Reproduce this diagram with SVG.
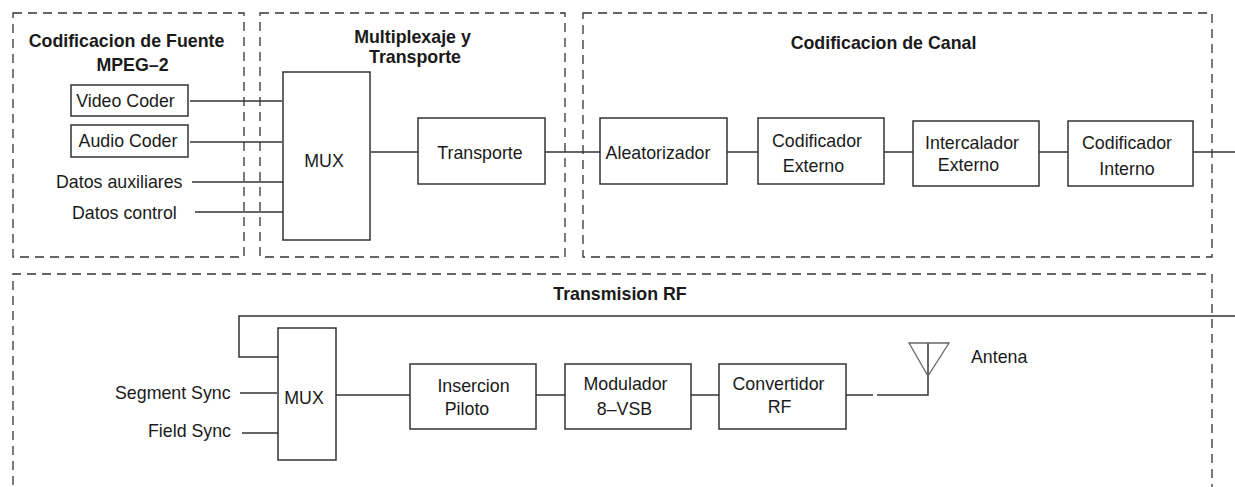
<svg xmlns="http://www.w3.org/2000/svg" width="1235" height="487" viewBox="0 0 1235 487">
<style>
  .grp { fill: none; stroke: #333; stroke-width: 1.3; stroke-dasharray: 9 6; }
  .box { fill: #fff; stroke: #333; stroke-width: 1.5; }
  .ln { fill: none; stroke: #333; stroke-width: 1.5; }
  .ant { fill: none; stroke: #666; stroke-width: 1.3; }
  text { font-family: "Liberation Sans", Arial, sans-serif; font-size: 17.8px; fill: #1a1a1a; }
  .t { font-weight: bold; }
  .m { text-anchor: middle; }
</style>
<rect width="1235" height="487" fill="#fff"/>

<g id="group-fuente">
  <rect class="grp" x="13" y="13" width="231" height="244"/>
  <text class="t m" x="126.5" y="47">Codificacion de Fuente</text>
  <text class="t m" x="132.5" y="71">MPEG–2</text>
</g>
<g id="group-mux">
  <rect class="grp" x="260" y="13" width="305" height="244"/>
  <text class="t m" x="412.5" y="43">Multiplexaje y</text>
  <text class="t m" x="415" y="63">Transporte</text>
</g>
<g id="group-canal">
  <rect class="grp" x="583" y="13" width="629" height="244"/>
  <text class="t m" x="883.5" y="49">Codificacion de Canal</text>
</g>
<g id="group-rf">
  <path class="grp" d="M13,500 V274 H1212 V500"/>
  <text class="t m" x="620" y="300">Transmision RF</text>
</g>

<g id="connectors">
  <line class="ln" x1="190" y1="101" x2="282" y2="101"/>
  <line class="ln" x1="190" y1="142" x2="282" y2="142"/>
  <line class="ln" x1="192" y1="182" x2="283" y2="182"/>
  <line class="ln" x1="195" y1="212" x2="285" y2="212"/>
  <line class="ln" x1="371" y1="152" x2="418" y2="152"/>
  <line class="ln" x1="545" y1="152" x2="600" y2="152"/>
  <line class="ln" x1="727" y1="152" x2="758" y2="152"/>
  <line class="ln" x1="884" y1="152" x2="913" y2="152"/>
  <line class="ln" x1="1039" y1="152" x2="1068" y2="152"/>
  <line class="ln" x1="1193" y1="152" x2="1240" y2="152"/>
  <path class="ln" d="M1240,316 H239 V357 H278"/>
  <line class="ln" x1="240" y1="393" x2="277" y2="393"/>
  <line class="ln" x1="242" y1="433" x2="278" y2="433"/>
  <line class="ln" x1="336" y1="395" x2="410" y2="395"/>
  <line class="ln" x1="536" y1="395" x2="565" y2="395"/>
  <line class="ln" x1="691" y1="395" x2="719" y2="395"/>
  <line class="ln" x1="846" y1="395" x2="873" y2="395"/>
  <path class="ln" d="M877,395 H928 V343"/>
</g>

<g id="video-coder">
  <rect class="box" x="71" y="85" width="117" height="31"/>
  <text class="m" x="125.5" y="107">Video Coder</text>
</g>
<g id="audio-coder">
  <rect class="box" x="71" y="125" width="117" height="32"/>
  <text class="m" x="128" y="147">Audio Coder</text>
</g>
<g id="datos-auxiliares">
  <text x="56" y="188">Datos auxiliares</text>
</g>
<g id="datos-control">
  <text x="72" y="219">Datos control</text>
</g>
<g id="mux1">
  <rect class="box" x="283" y="72" width="87" height="168"/>
  <text class="m" x="324" y="167">MUX</text>
</g>
<g id="transporte">
  <rect class="box" x="418" y="118" width="127" height="66"/>
  <text class="m" x="480" y="159">Transporte</text>
</g>
<g id="aleatorizador">
  <rect class="box" x="600" y="118" width="127" height="66"/>
  <text class="m" x="658" y="159">Aleatorizador</text>
</g>
<g id="codificador-externo">
  <rect class="box" x="758" y="118" width="126" height="66"/>
  <text class="m" x="817" y="147">Codificador</text>
  <text class="m" x="813.5" y="172">Externo</text>
</g>
<g id="intercalador-externo">
  <rect class="box" x="913" y="121" width="126" height="65"/>
  <text class="m" x="972" y="149">Intercalador</text>
  <text class="m" x="968.5" y="171">Externo</text>
</g>
<g id="codificador-interno">
  <rect class="box" x="1068" y="121" width="125" height="65"/>
  <text class="m" x="1127" y="149">Codificador</text>
  <text class="m" x="1127" y="175">Interno</text>
</g>

<g id="segment-sync">
  <text x="115" y="399">Segment Sync</text>
</g>
<g id="field-sync">
  <text x="148" y="437">Field Sync</text>
</g>
<g id="mux2">
  <rect class="box" x="278" y="328" width="58" height="132"/>
  <text class="m" x="304" y="404">MUX</text>
</g>
<g id="insercion-piloto">
  <rect class="box" x="410" y="364" width="126" height="65"/>
  <text class="m" x="473.5" y="392">Insercion</text>
  <text class="m" x="467" y="415">Piloto</text>
</g>
<g id="modulador">
  <rect class="box" x="565" y="364" width="126" height="65"/>
  <text class="m" x="625.5" y="390">Modulador</text>
  <text class="m" x="624.5" y="415">8–VSB</text>
</g>
<g id="convertidor-rf">
  <rect class="box" x="719" y="364" width="127" height="65"/>
  <text class="m" x="778.5" y="390">Convertidor</text>
  <text class="m" x="779.5" y="413">RF</text>
</g>
<g id="antena">
  <path class="ant" d="M909,343 H949 L928,376 Z"/>
  <text x="971" y="363">Antena</text>
</g>
</svg>
